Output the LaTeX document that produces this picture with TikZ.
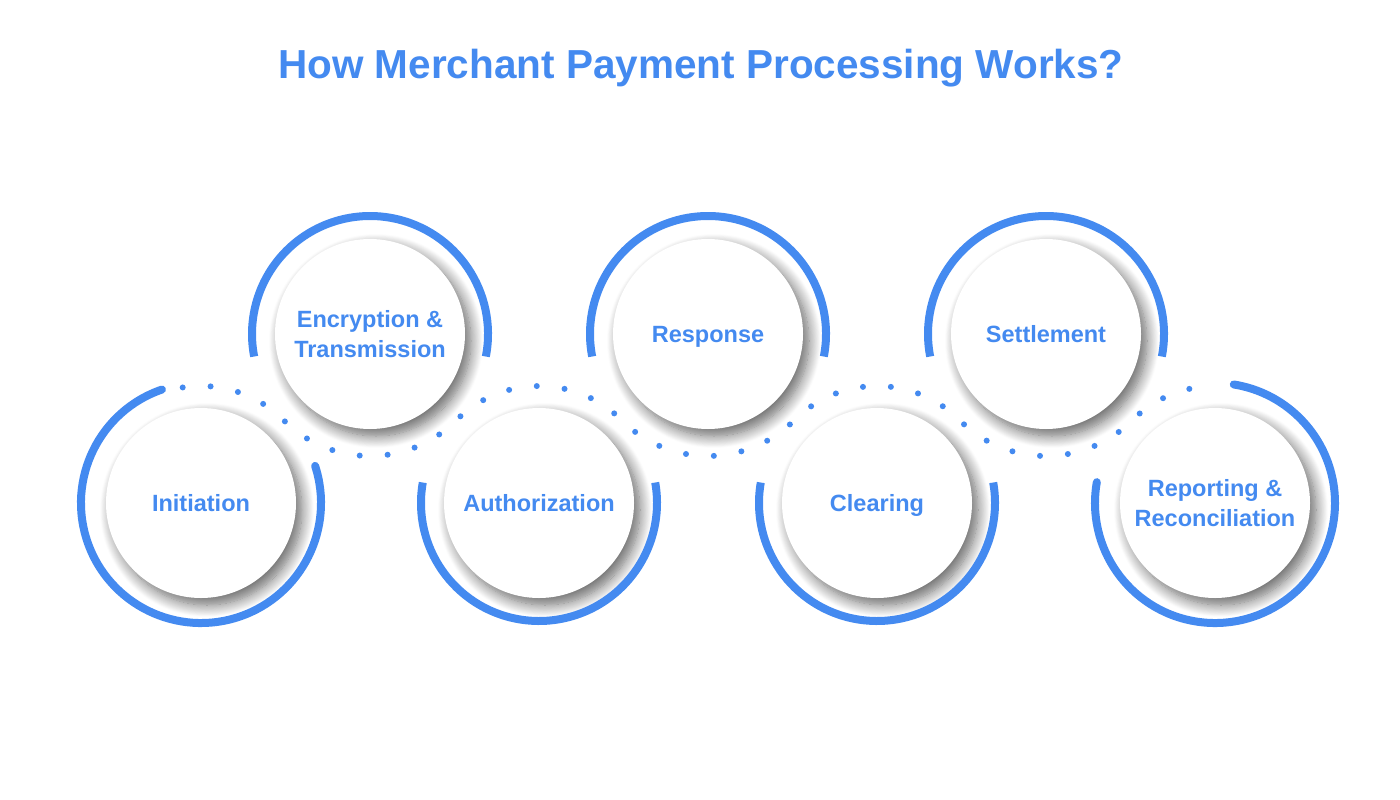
\documentclass[tikz,border=0pt]{standalone}
\usepackage{fontspec}
\setmainfont{Liberation Sans}
\usetikzlibrary{shadows.blur}
\definecolor{payBlue}{HTML}{448AF0}

\begin{document}
\begin{tikzpicture}[
  x=1pt, y=1pt,
  stepNode/.style={circle, fill=white, minimum size=190pt, inner sep=0pt, align=center,
    font=\fontsize{23.5}{30}\selectfont\bfseries, text=payBlue,
    blur shadow={shadow xshift=6pt, shadow yshift=-7pt, shadow blur radius=12pt,
      shadow blur steps=14, shadow opacity=60}},
  oneLine/.style={text height=17pt, text depth=0pt},
  ringArc/.style={draw=payBlue, line width=8pt},
  dotWave/.style={draw=payBlue, line width=6pt, line cap=round, dash pattern=on 0pt off 27.97pt}
  ]
  \useasboundingbox (0,0) rectangle (1400,-800);
  \node[font=\fontsize{40.5}{48}\selectfont\bfseries, text=payBlue] (title) at (701,-68)
    {How Merchant Payment Processing Works?};

  % the seven steps, low and high in turn
  \node[stepNode, oneLine] (init)   at (201,-503)  {Initiation};
  \node[stepNode] (encr)   at (370,-334)  {Encryption \&\\Transmission};
  \node[stepNode, oneLine] (auth)   at (539,-503)  {Authorization};
  \node[stepNode, oneLine] (resp)   at (708,-334)  {Response};
  \node[stepNode, oneLine] (clear)  at (877,-503)  {Clearing};
  \node[stepNode, oneLine] (settle) at (1046,-334) {Settlement};
  \node[stepNode] (report) at (1215,-503) {Reporting \&\\Reconciliation};

  % open rings round the steps
  \draw[ringArc, line cap=round] (init.center) ++(109:120) arc[start angle=109, end angle=378, radius=120];
  \draw[ringArc] (encr.center) ++(-11:118) arc[start angle=-11, end angle=191, radius=118];
  \draw[ringArc] (auth.center) ++(170:118) arc[start angle=170, end angle=370, radius=118];
  \draw[ringArc] (resp.center) ++(-11:118) arc[start angle=-11, end angle=191, radius=118];
  \draw[ringArc] (clear.center) ++(170:118) arc[start angle=170, end angle=370, radius=118];
  \draw[ringArc] (settle.center) ++(-11:118) arc[start angle=-11, end angle=191, radius=118];
  \draw[ringArc, line cap=round] (report.center) ++(-190:120) arc[start angle=-190, end angle=81, radius=120];

  % dotted wave over the low rings and under the high ones
  \draw[dotWave] (init.center) ++(99:117)
    arc[start angle=99, end angle=45, radius=117]
    arc[start angle=225, end angle=315, radius=122]
    arc[start angle=135, end angle=45, radius=117]
    arc[start angle=225, end angle=315, radius=122]
    arc[start angle=135, end angle=45, radius=117]
    arc[start angle=225, end angle=315, radius=122]
    arc[start angle=135, end angle=89, radius=117];
\end{tikzpicture}
\end{document}
